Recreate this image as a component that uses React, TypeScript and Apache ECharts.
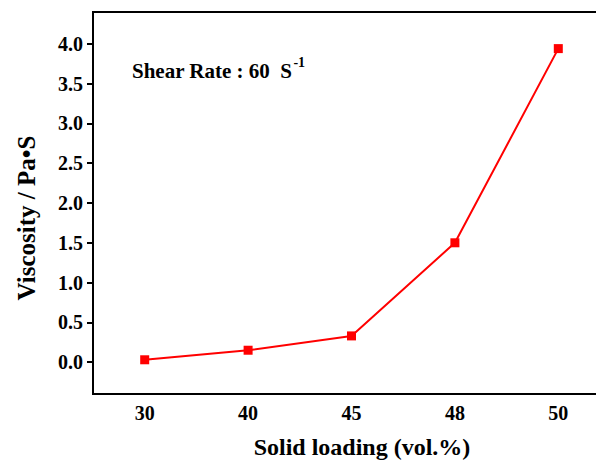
import React, { useEffect, useRef } from "react";
import * as echarts from "echarts";

const categories = ["30", "40", "45", "48", "50"];
const viscosity = [0.03, 0.15, 0.33, 1.5, 3.94];
const yTicks = [0, 0.5, 1.0, 1.5, 2.0, 2.5, 3.0, 3.5, 4.0];
const xTitle = "Solid loading (vol.%)";
const yTitle = "Viscosity / Pa\u2022S";

const FONT = "Liberation Serif";

export default function App() {
  const ref = useRef<HTMLDivElement>(null);
  useEffect(() => {
    if (!ref.current) return;
    const chart = echarts.init(ref.current, null, { renderer: "svg" });
    chart.setOption({
      animation: false,
      backgroundColor: "#ffffff",
      textStyle: { fontFamily: FONT },
      grid: {
        left: 93,
        top: 12,
        width: 517,
        height: 382,
        show: true,
        borderColor: "#000",
        borderWidth: 2,
        containLabel: false,
        outerBoundsMode: "none",
      },
      xAxis: {
        type: "category",
        data: categories,
        boundaryGap: true,
        axisLine: { onZero: false, lineStyle: { color: "#000", width: 2 } },
        axisTick: { alignWithLabel: true, length: 6, lineStyle: { color: "#000", width: 2 } },
        axisLabel: { fontFamily: FONT, fontWeight: "bold", fontSize: 20, color: "#000", margin: 9 },
        splitLine: { show: false },
      },
      yAxis: {
        type: "value",
        min: -0.4,
        max: 4.4,
        axisLine: { show: true, onZero: false, lineStyle: { color: "#000", width: 2 } },
        axisTick: { show: true, length: 6, customValues: yTicks, lineStyle: { color: "#000", width: 2 } },
        axisLabel: {
          fontFamily: FONT,
          fontWeight: "bold",
          fontSize: 20,
          color: "#000",
          margin: 10,
          customValues: yTicks,
          formatter: (v: number) => v.toFixed(1),
        },
        splitLine: { show: false },
      },
      series: [
        {
          type: "line",
          data: viscosity,
          symbol: "rect",
          symbolSize: 9,
          itemStyle: { color: "#ff0000" },
          lineStyle: { color: "#ff0000", width: 2 },
        },
      ],
      graphic: [
        {
          type: "text",
          x: 362,
          y: 447,
          style: {
            text: xTitle,
            fontFamily: FONT,
            fontWeight: "bold",
            fontSize: 24,
            fill: "#000",
            align: "center",
            verticalAlign: "middle",
          },
        },
        {
          type: "text",
          x: 26,
          y: 218,
          rotation: Math.PI / 2,
          style: {
            text: yTitle,
            fontFamily: FONT,
            fontWeight: "bold",
            fontSize: 25,
            fill: "#000",
            align: "center",
            verticalAlign: "middle",
          },
        },
        {
          type: "text",
          left: 132,
          top: 55,
          style: {
            text: "{a|Shear Rate : 60  S}{b|-1}",
            fontFamily: FONT,
            rich: {
              a: { fontFamily: FONT, fontWeight: "bold", fontSize: 21, color: "#000", lineHeight: 26, verticalAlign: "bottom" },
              b: { fontFamily: FONT, fontWeight: "bold", fontSize: 14, color: "#000", lineHeight: 26, verticalAlign: "top", padding: [0, 0, 0, 1] },
            },
          },
        },
      ],
    });
    return () => chart.dispose();
  }, []);
  return (
    <div
      ref={ref}
      style={{ position: "absolute", left: 0, top: 0, width: 596, height: 463, overflow: "hidden" }}
    />
  );
}
